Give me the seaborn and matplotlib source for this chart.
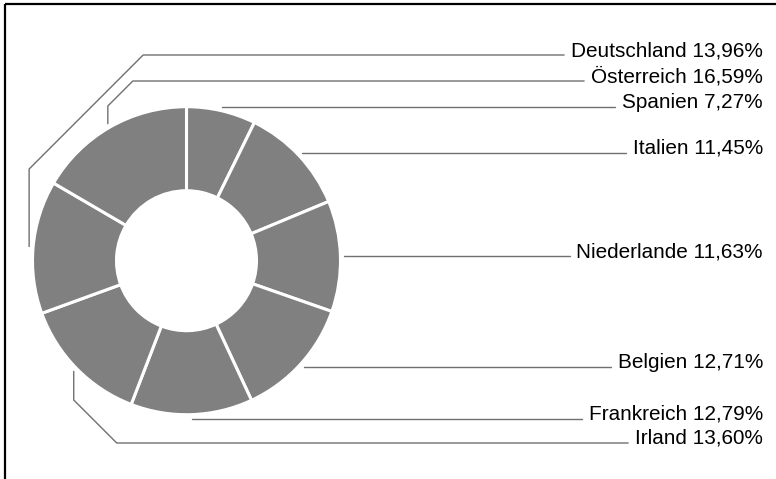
import seaborn as sns
import matplotlib.pyplot as plt
import numpy as np

# Anteile (im Uhrzeigersinn ab 12 Uhr)
laender = ['Spanien', 'Italien', 'Niederlande', 'Belgien', 'Frankreich', 'Irland', 'Deutschland', 'Österreich']
anteile = [7.27, 11.45, 11.63, 12.71, 12.79, 13.60, 13.96, 16.59]

# Beschriftungen links vom Ring: feste Zeilen-y und Breite der Schräge (Pixel)
links_y = {'Irland': 443, 'Deutschland': 55, 'Österreich': 81}
links_schraege = {'Irland': 43, 'Deutschland': 114, 'Österreich': 25}

sns.set_theme(style='white')
plt.rcParams['font.family'] = ['Liberation Sans', 'DejaVu Sans']

fig = plt.figure(figsize=(7.76, 4.79), dpi=100)
ax = fig.add_axes([0, 0, 1, 1])

cx, cy = 186.5, 260.7
R, r_in = 154, 70
wedges, _ = ax.pie(anteile, center=(cx, cy), radius=R, startangle=-90, counterclock=True,
                   colors=['#808080'] * len(anteile),
                   wedgeprops=dict(width=R - r_in, edgecolor='white', linewidth=2.2))

ax.set_xlim(0, 776)
ax.set_ylim(479, 0)
ax.set_axis_off()

# Rahmen
ax.add_patch(plt.Rectangle((5, 4), 800, 500, fill=False, edgecolor='black', linewidth=1.6, clip_on=False))

renderer = fig.canvas.get_renderer()
x_text = 763
linie = dict(color='#707070', linewidth=1.0)

for w, name, wert in zip(wedges, laender, anteile):
    mid = np.deg2rad((w.theta1 + w.theta2) / 2)
    sx = cx + (R + 4) * np.cos(mid)
    sy = cy + (R + 4) * np.sin(mid)
    label = f'{name} {wert:.2f}%'.replace('.', ',')
    if name in links_y:
        # senkrecht, dann 45°-Schräge, dann waagerecht zur Beschriftung
        ly = links_y[name]
        d = links_schraege[name]
        knick_y = ly + d if ly < sy else ly - d
        xs = [sx, sx, sx + d]
        ys = [sy, knick_y, ly]
    else:
        ly = sy
        xs = [sx]
        ys = [sy]
    t = ax.text(x_text, ly + 1, label, ha='right', va='baseline', fontsize=14.95, color='black')
    bb = t.get_window_extent(renderer=renderer)
    x_end = bb.x0 - 7
    ax.plot(xs + [x_end], ys + [ly], **linie)

fig.savefig('out.png', dpi=100)
